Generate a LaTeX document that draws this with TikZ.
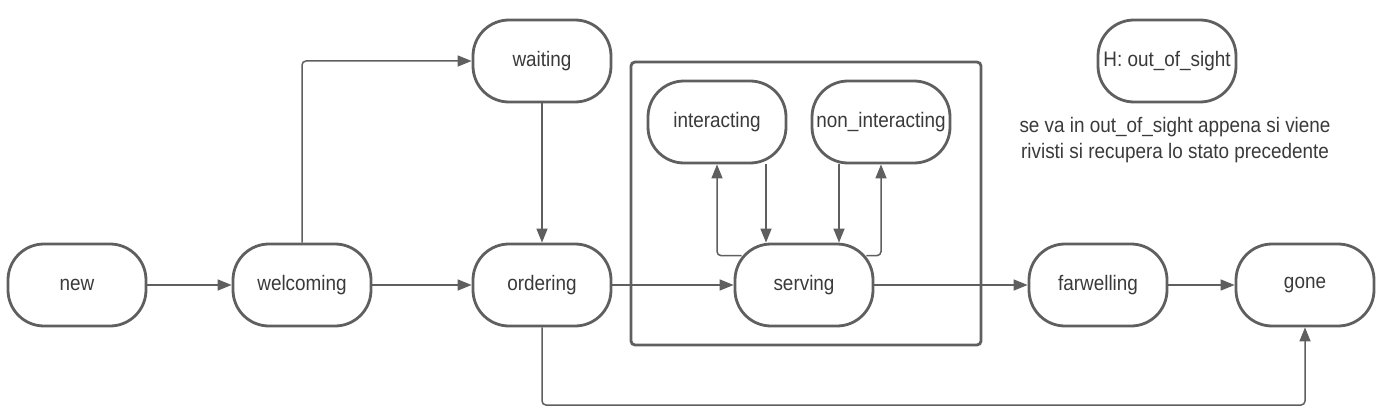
\documentclass[tikz,border=0pt]{standalone}
\usepackage{fontspec}
\setmainfont{Liberation Sans}[FakeStretch=0.9]
\usetikzlibrary{arrows.meta,calc}
\definecolor{ln}{HTML}{5F5F5F}
\definecolor{tx}{HTML}{3A3A3A}
\begin{document}
\begin{tikzpicture}[x=1pt,y=-1pt,
  state/.style={draw=ln, line width=2.8pt, rounded corners=36pt, minimum width=138pt, minimum height=82pt, inner sep=0pt, text=tx, font=\fontsize{21}{25}\selectfont, fill=white},
  group/.style={draw=ln, line width=2.8pt, rounded corners=4pt, minimum width=350pt, minimum height=283pt, inner sep=0pt},
  arr/.style={draw=ln, line width=1.5pt, -{Triangle[length=14pt,width=11pt]}, rounded corners=4pt},
  note/.style={text=tx, font=\fontsize{21}{26}\selectfont, align=center, inner sep=0pt}]
\useasboundingbox (0,0) rectangle (1388,412);
\node[group] (box) at (806,203.5) {};
\node[state] (new) at (77,285) {new};
\node[state] (welcoming) at (302,285) {welcoming};
\node[state] (waiting) at (542,61) {waiting};
\node[state] (ordering) at (542,285) {ordering};
\node[state] (serving) at (804,285) {serving};
\node[state] (interacting) at (717,122) {interacting};
\node[state] (non) at (881,122) {non\_interacting};
\node[state] (farwelling) at (1098,285) {farwelling};
\node[state] (gone) at (1305,285) {gone};
\node[state] (hist) at (1167,61) {H: out\_of\_sight};
\node[note] (txt) at (1175,140) {se va in out\_of\_sight appena si viene\\rivisti si recupera lo stato precedente};
\coordinate (low) at (0,405);
\draw[arr] (new) -- (welcoming);
\draw[arr] (welcoming.north) |- (waiting.west);
\draw[arr] (welcoming) -- (ordering);
\draw[arr] (waiting) -- (ordering);
\draw[arr] (ordering) -- (serving);
\draw[arr] ($(serving.north west)+(8,13)$) -| (interacting.south);
\draw[arr] ([xshift=49pt]interacting.south) -- ([xshift=-38pt]serving.north);
\draw[arr] ([xshift=-42pt]non.south) -- ([xshift=35pt]serving.north);
\draw[arr] ($(serving.north east)+(-8,13)$) -| (non.south);
\draw[arr] (serving) -- (farwelling);
\draw[arr] (farwelling) -- (gone);
\draw[arr] (ordering.south) |- (low -| gone.south) -- (gone.south);
\end{tikzpicture}
\end{document}
